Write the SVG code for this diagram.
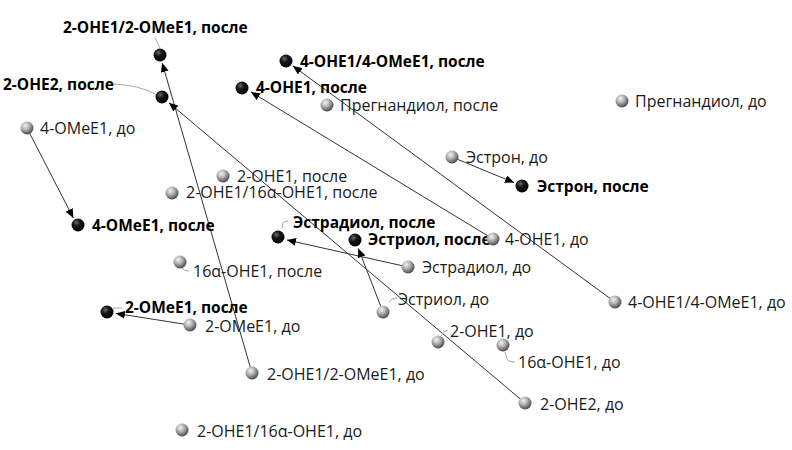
<svg xmlns="http://www.w3.org/2000/svg" width="792" height="450" viewBox="0 0 792 450">
<defs>
<radialGradient id="gGray" cx="0.38" cy="0.32" r="0.7">
<stop offset="0" stop-color="#f4f4f4"/>
<stop offset="0.45" stop-color="#b0b0b0"/>
<stop offset="1" stop-color="#454545"/>
</radialGradient>
<radialGradient id="gBlack" cx="0.38" cy="0.32" r="0.7">
<stop offset="0" stop-color="#6a6a6a"/>
<stop offset="0.4" stop-color="#151515"/>
<stop offset="1" stop-color="#000"/>
</radialGradient>
<marker id="ah" markerWidth="10" markerHeight="8" refX="9" refY="4" orient="auto" markerUnits="userSpaceOnUse">
<path d="M0,0 L9,4 L0,8 Z" fill="#000"/>
</marker>
</defs>
<style>
text{font-family:"Open Sans","Liberation Sans",sans-serif;font-size:16px;fill:#1a1a1a}
.b{font-weight:bold;font-size:15.5px;fill:#000}
.g{fill:url(#gGray)}
.k{fill:url(#gBlack)}
.c{stroke:#333;stroke-width:1;fill:none;marker-end:url(#ah)}
.ld{stroke:#a8a8a8;stroke-width:1;fill:none}
</style>
<rect width="792" height="450" fill="#fff"/>
<g id="connectors">
<line class="c" x1="29.7" y1="133.3" x2="73.3" y2="217.9"/>
<line class="c" x1="250.3" y1="367.2" x2="162.2" y2="63"/>
<line class="c" x1="520.4" y1="399.1" x2="169" y2="102.8"/>
<line class="c" x1="610.2" y1="298.5" x2="293" y2="66"/>
<line class="c" x1="487.9" y1="235.9" x2="251" y2="92"/>
<line class="c" x1="457.5" y1="159.3" x2="514" y2="182.6"/>
<line class="c" x1="402.1" y1="265.7" x2="287" y2="240"/>
<line class="c" x1="380.8" y1="306.4" x2="358.3" y2="248.4"/>
<line class="c" x1="184.1" y1="324.1" x2="115.9" y2="313.4"/>
</g>
<g id="leaders">
<path class="ld" d="M155,38 L160,48"/>
<path class="ld" d="M113,84 Q140,85 157,95"/>
<path class="ld" d="M282,228 L283,223 Q284,221 288,221"/>
<path class="ld" d="M182,268 Q184,271 189,271"/>
<path class="ld" d="M113,308 L122,308"/>
<path class="ld" d="M389,302 Q391,298 397,298"/>
<path class="ld" d="M441,336 Q443,331 448,330"/>
<path class="ld" d="M505,352 L507,359 Q508,362 515,362"/>
</g>
<g id="n-2OHE1-2OMeE1-posle"><circle class="k" cx="160" cy="55" r="6.5"/><text class="b" x="63" y="33">2-OHE1/2-OMeE1, после</text></g>
<g id="n-2OHE2-posle"><circle class="k" cx="162" cy="97" r="6.5"/><text class="b" x="3" y="90">2-OHE2, после</text></g>
<g id="n-4OHE1-4OMeE1-posle"><circle class="k" cx="286" cy="61" r="6.5"/><text class="b" x="300" y="67">4-OHE1/4-OMeE1, после</text></g>
<g id="n-4OHE1-posle"><circle class="k" cx="242" cy="88" r="6.5"/><text class="b" x="256" y="93">4-OHE1, после</text></g>
<g id="n-pregn-posle"><circle class="g" cx="327" cy="105" r="6.5"/><text x="340" y="111">Прегнандиол, после</text></g>
<g id="n-pregn-do"><circle class="g" cx="622" cy="101" r="6.5"/><text x="635" y="107">Прегнандиол, до</text></g>
<g id="n-4OMeE1-do"><circle class="g" cx="27" cy="128" r="6.5"/><text x="40" y="134">4-OMeE1, до</text></g>
<g id="n-estron-do"><circle class="g" cx="452" cy="157" r="6.5"/><text x="466" y="163">Эстрон, до</text></g>
<g id="n-estron-posle"><circle class="k" cx="522" cy="186" r="6.5"/><text class="b" x="537" y="192">Эстрон, после</text></g>
<g id="n-2OHE1-posle"><circle class="g" cx="223" cy="176" r="6.5"/><text x="237" y="182">2-OHE1, после</text></g>
<g id="n-2OHE1-16-posle"><circle class="g" cx="172" cy="193" r="6.5"/><text x="186" y="198">2-OHE1/16α-OHE1, после</text></g>
<g id="n-4OMeE1-posle"><circle class="k" cx="78" cy="225" r="6.5"/><text class="b" x="92" y="231">4-OMeE1, после</text></g>
<g id="n-estradiol-posle"><circle class="k" cx="278" cy="237" r="6.5"/><text class="b" x="293" y="228">Эстрадиол, после</text></g>
<g id="n-estriol-posle"><circle class="k" cx="355" cy="240" r="6.5"/><text class="b" x="368" y="245">Эстриол, после</text></g>
<g id="n-4OHE1-do"><circle class="g" cx="493" cy="239" r="6.5"/><text x="505" y="245">4-OHE1, до</text></g>
<g id="n-estradiol-do"><circle class="g" cx="408" cy="267" r="6.5"/><text x="422" y="273">Эстрадиол, до</text></g>
<g id="n-16-posle"><circle class="g" cx="180" cy="262" r="6.5"/><text x="193" y="277">16α-OHE1, после</text></g>
<g id="n-estriol-do"><circle class="g" cx="383" cy="312" r="6.5"/><text x="398" y="305">Эстриол, до</text></g>
<g id="n-2OMeE1-posle"><circle class="k" cx="107" cy="312" r="6.5"/><text class="b" x="125" y="313">2-OMeE1, после</text></g>
<g id="n-2OMeE1-do"><circle class="g" cx="190" cy="325" r="6.5"/><text x="205" y="332">2-OMeE1, до</text></g>
<g id="n-4OHE1-4OMeE1-do"><circle class="g" cx="615" cy="302" r="6.5"/><text x="628" y="308">4-OHE1/4-OMeE1, до</text></g>
<g id="n-2OHE1-do"><circle class="g" cx="438" cy="342" r="6.5"/><text x="450" y="337">2-OHE1, до</text></g>
<g id="n-16-do"><circle class="g" cx="503" cy="345" r="6.5"/><text x="518" y="368">16α-OHE1, до</text></g>
<g id="n-2OHE1-2OMeE1-do"><circle class="g" cx="252" cy="373" r="6.5"/><text x="267" y="380">2-OHE1/2-OMeE1, до</text></g>
<g id="n-2OHE2-do"><circle class="g" cx="525" cy="403" r="6.5"/><text x="540" y="410">2-OHE2, до</text></g>
<g id="n-2OHE1-16-do"><circle class="g" cx="182" cy="430" r="6.5"/><text x="197" y="437">2-OHE1/16α-OHE1, до</text></g>
</svg>
